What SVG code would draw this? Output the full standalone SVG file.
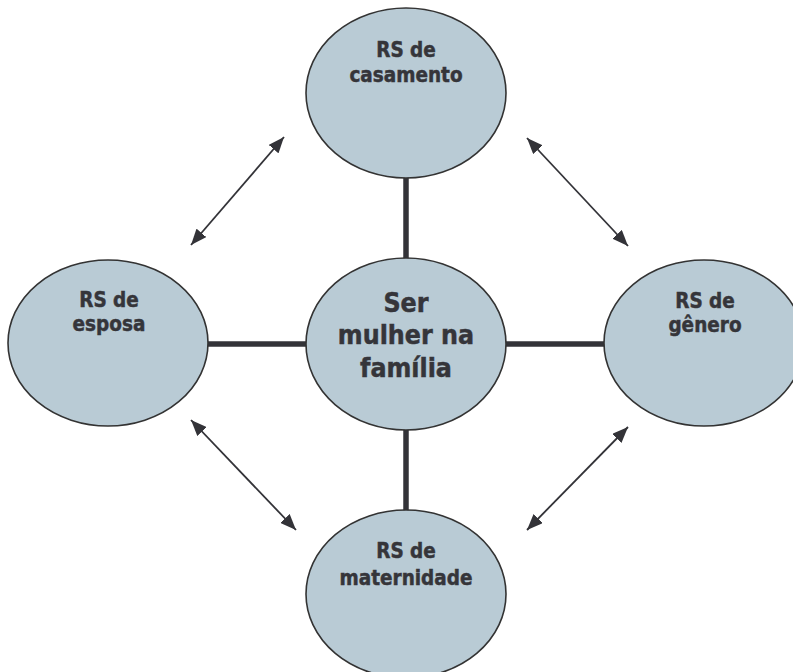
<svg xmlns="http://www.w3.org/2000/svg" width="793" height="672" viewBox="0 0 793 672">
  <style>
    .node { fill: #b9cbd5; stroke: #333333; stroke-width: 1.6; }
    .label { font-family: "DejaVu Sans Condensed", "DejaVu Sans", Verdana, sans-serif; font-stretch: condensed; font-weight: bold; fill: #35353a; text-anchor: middle; stroke: #35353a; stroke-width: 0.45; }
    .small { font-size: 20.5px; }
    .big { font-size: 26.5px; }
    .bar { stroke: #333338; stroke-width: 5.5; fill: none; }
    .link { stroke: #333338; stroke-width: 1.8; fill: none; marker-start: url(#head); marker-end: url(#head); }
  </style>
  <defs>
    <!-- filled triangular arrowhead used on both ends of the diagonal links -->
    <marker id="head" viewBox="0 0 16 13" refX="16" refY="6.5" markerWidth="16" markerHeight="13" markerUnits="userSpaceOnUse" orient="auto-start-reverse">
      <path d="M0,0 L16,6.5 L0,13 z" fill="#333338"/>
    </marker>
  </defs>
  <rect width="793" height="672" fill="#ffffff"/>

  <!-- connectors -->
  <g id="connectors">
    <line class="bar" x1="406" y1="176" x2="406" y2="260"/>
    <line class="bar" x1="406" y1="428" x2="406" y2="512"/>
    <line class="bar" x1="206" y1="344" x2="308" y2="344"/>
    <line class="bar" x1="504" y1="344" x2="606" y2="344"/>
    <line class="link" x1="191" y1="245" x2="284" y2="137"/>
    <line class="link" x1="527" y1="138" x2="628" y2="246"/>
    <line class="link" x1="191" y1="420" x2="296" y2="530"/>
    <line class="link" x1="628" y1="427" x2="527" y2="530"/>
  </g>

  <g id="casamento">
    <ellipse class="node" cx="406" cy="93" rx="100" ry="85"/>
    <text class="label small" x="406" y="57">RS de</text>
    <text class="label small" x="406" y="82">casamento</text>
  </g>

  <g id="familia">
    <ellipse class="node" cx="406" cy="344" rx="100" ry="86"/>
    <text class="label big" x="406" y="312">Ser</text>
    <text class="label big" x="406" y="344">mulher na</text>
    <text class="label big" x="406" y="377">família</text>
  </g>

  <g id="esposa">
    <ellipse class="node" cx="108" cy="343" rx="100" ry="83"/>
    <text class="label small" x="109" y="307">RS de</text>
    <text class="label small" x="109" y="331">esposa</text>
  </g>

  <g id="genero">
    <ellipse class="node" cx="704" cy="343" rx="100" ry="83"/>
    <text class="label small" x="705" y="308">RS de</text>
    <text class="label small" x="705" y="332">gênero</text>
  </g>

  <g id="maternidade">
    <ellipse class="node" cx="406" cy="594" rx="100" ry="84"/>
    <text class="label small" x="406" y="558">RS de</text>
    <text class="label small" x="406" y="585">maternidade</text>
  </g>
</svg>
